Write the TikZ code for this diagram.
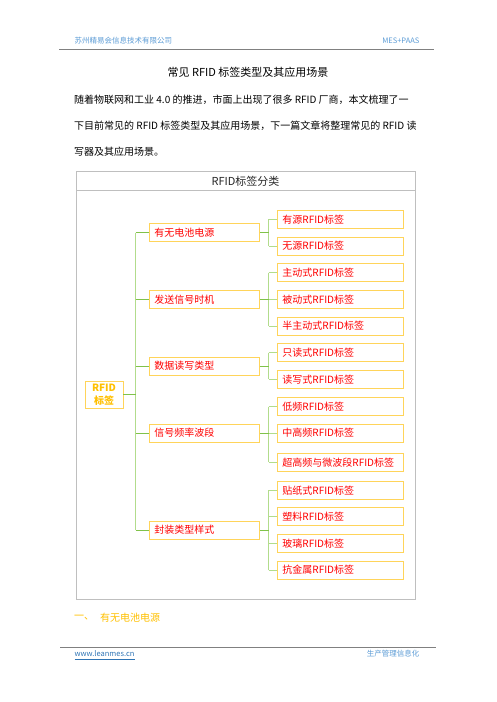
\documentclass[tikz,border=0pt]{standalone}
\usepackage{fontspec}
\usetikzlibrary{calc}
\newfontfamily\cjk{Noto Sans CJK SC}
\definecolor{hdrblue}{HTML}{5B9BD5}
\definecolor{linkblue}{HTML}{2E74B5}
\definecolor{rulegray}{HTML}{808080}
\definecolor{framegray}{HTML}{BFBFBF}
\definecolor{boxyel}{HTML}{FFD45A}
\definecolor{rootyel}{HTML}{FFC000}
\definecolor{gdark}{HTML}{80C24A}
\definecolor{glight}{HTML}{B2DC8C}
\begin{document}
\begin{tikzpicture}[x=1pt,y=-1pt,
  hdr/.style={font=\cjk\fontsize{7.5}{9}\selectfont, text=hdrblue, inner sep=0pt},
  para/.style={font=\cjk\fontsize{10}{12}\selectfont, inner sep=0pt, anchor=west},
  lvtwo/.style={draw=boxyel, fill=white, line width=0.8pt, minimum width=110pt, minimum height=18pt,
    text width=100pt, align=left, inner xsep=5pt, inner ysep=0pt, anchor=west, text=red,
    font=\cjk\fontsize{10}{12}\selectfont},
  lvthree/.style={lvtwo, minimum width=126pt, text width=116pt},
  rootbox/.style={draw=boxyel, fill=white, line width=0.8pt, minimum width=38pt, minimum height=27pt,
    align=center, inner sep=0pt, text=rootyel, font=\cjk\bfseries\fontsize{10}{12.5}\selectfont},
  stem/.style={draw=gdark, line width=0.8pt},
  twig/.style={draw=glight, line width=0.8pt}
]
\useasboundingbox (0,0) rectangle (496,702);

% header
\node[hdr, anchor=west] (h1) at (74.5,41) {苏州精易会信息技术有限公司};
\node[hdr, anchor=east] (h2) at (419.5,41) {MES+PAAS};
\draw[rulegray, line width=0.7pt] (59,49.3) -- (434,49.3);

% title & paragraph
\node[font=\cjk\fontsize{11}{13}\selectfont, inner sep=0pt] (title) at (248,72.5) {常见 RFID 标签类型及其应用场景};
\node[para] (p1) at (74,99.5) {随着物联网和工业 4.0 的推进，市面上出现了很多 RFID 厂商，本文梳理了一};
\node[para] (p2) at (74,125.5) {下目前常见的 RFID 标签类型及其应用场景，下一篇文章将整理常见的 RFID 读};
\node[para] (p3) at (74,151.5) {写器及其应用场景。};

% frame
\node[draw=framegray, line width=0.8pt, minimum width=339pt, minimum height=428pt, inner sep=0pt, anchor=north west] (frame) at (76.3,171) {};
\draw[framegray, line width=0.8pt] (76.3,190) -- (415.3,190);
\node[font=\cjk\fontsize{11}{13}\selectfont, text=black!85, inner sep=0pt] (dtitle) at (245.5,181) {RFID标签分类};

% root
\node[rootbox] (root) at (104,394.5) {RFID\\标签};

% level 2
\node[lvtwo] (a) at (149,232.5) {有无电池电源};
\node[lvtwo] (b) at (149,299.5) {发送信号时机};
\node[lvtwo] (c) at (149,366) {数据读写类型};
\node[lvtwo] (d) at (149,433) {信号频率波段};
\node[lvtwo] (e) at (149,530) {封装类型样式};

% level 3
\node[lvthree] (a1) at (277,219.3) {有源RFID标签};
\node[lvthree] (a2) at (277,246) {无源RFID标签};
\node[lvthree] (b1) at (277,272.7) {主动式RFID标签};
\node[lvthree] (b2) at (277,299.3) {被动式RFID标签};
\node[lvthree] (b3) at (277,326) {半主动式RFID标签};
\node[lvthree] (c1) at (277,352.7) {只读式RFID标签};
\node[lvthree] (c2) at (277,379.3) {读写式RFID标签};
\node[lvthree] (d1) at (277,406.7) {低频RFID标签};
\node[lvthree] (d2) at (277,433) {中高频RFID标签};
\node[lvthree] (d3) at (277,462.3) {超高频与微波段RFID标签};
\node[lvthree] (e1) at (277,490.3) {贴纸式RFID标签};
\node[lvthree] (e2) at (277,516.7) {塑料RFID标签};
\node[lvthree] (e3) at (277,543.3) {玻璃RFID标签};
\node[lvthree] (e4) at (277,570) {抗金属RFID标签};

% trunk
\coordinate (t) at (135.7,0);
\draw[twig] (a.west -| t) -- (e.west -| t);
\draw[stem] (root.east) -- (root.east -| t);
\foreach \n in {a,b,c,d,e} \draw[stem] (\n.west -| t) -- (\n.west);

% branches
\coordinate (s) at (268.7,0);
\foreach \p/\f/\l/\kids in {a/a1/a2/{a1,a2}, b/b1/b3/{b1,b2,b3}, c/c1/c2/{c1,c2}, d/d1/d3/{d1,d2,d3}, e/e1/e4/{e1,e2,e3,e4}}{
  \draw[twig] (\f.west -| s) -- (\l.west -| s);
  \foreach \k in \kids \draw[twig] (\k.west -| s) -- (\k.west);
  \draw[stem] (\p.east) -- (\p.east -| s);
}

% section heading
\node[font=\cjk\fontsize{10}{12}\selectfont, text=rootyel, inner sep=0pt, anchor=west] (s1) at (74,618) {一、};
\node[font=\cjk\fontsize{10}{12}\selectfont, text=rootyel, inner sep=0pt, anchor=west] (s2) at (100,618) {有无电池电源};

% footer
\draw[rulegray, line width=0.7pt] (60,647.5) -- (436,647.5);
\node[hdr, text=linkblue, anchor=west] (f1) at (74.5,653.5) {www.leanmes.cn};
\draw[linkblue, line width=0.6pt] ($(f1.south west)+(0,2.2)$) -- ($(f1.south east)+(0,2.2)$);
\node[hdr, anchor=east] (f2) at (419.5,653.5) {生产管理信息化};
\end{tikzpicture}
\end{document}
